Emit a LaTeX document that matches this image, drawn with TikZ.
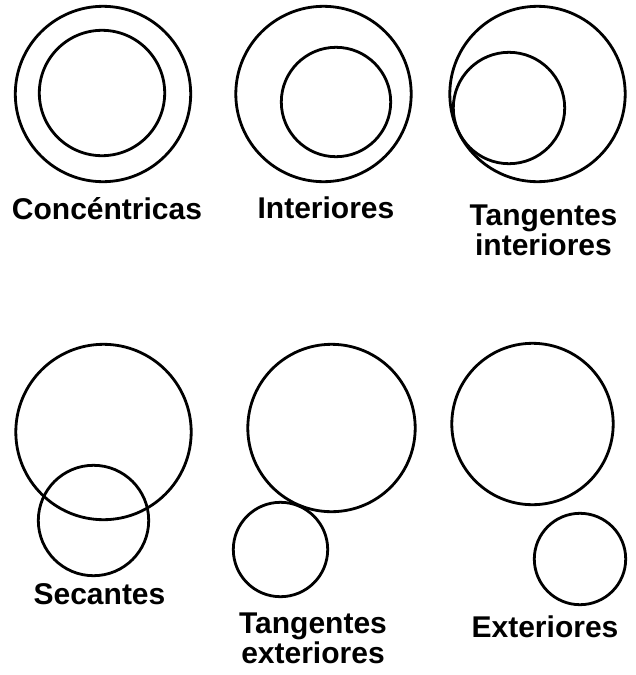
\documentclass[tikz,border=0pt]{standalone}
\usepackage{fontspec}
\setmainfont{Liberation Sans}

\tikzset{
  ring/.style={black,line width=2.8pt},
  lbl/.style={font=\fontsize{30}{27.5}\selectfont\bfseries,inner sep=0pt,anchor=base,align=center}
}

\begin{document}
\begin{tikzpicture}[x=1pt,y=-1pt]
  \useasboundingbox[fill=white] (0,0) rectangle (635,675);

  % upper row
  \foreach \cx/\cy/\r in {103/94/87.7, 102/93/62.7,
                          323.5/94/87.7, 336/102/54.7,
                          537.5/94/87.7, 509/108/55.7}{
    \draw[ring] (\cx,\cy) circle (\r);
  }

  % lower row
  \foreach \cx/\cy/\r in {103.5/432/87.7, 93.5/520.5/55.2,
                          331.5/428/83.7, 280.5/549.5/47.2,
                          532.5/424/80.7, 580/559/45.7}{
    \draw[ring] (\cx,\cy) circle (\r);
  }

  % labels (base = last line)
  \node[lbl] (conc) at (107,219) {Concéntricas};
  \node[lbl] (inte) at (326,218) {Interiores};
  \node[lbl] (tint) at (543.5,255) {Tangentes\\interiores};
  \node[lbl] (seca) at (99.5,604) {Secantes};
  \node[lbl] (text) at (313,663) {Tangentes\\exteriores};
  \node[lbl] (exte) at (545,637) {Exteriores};

\end{tikzpicture}
\end{document}
